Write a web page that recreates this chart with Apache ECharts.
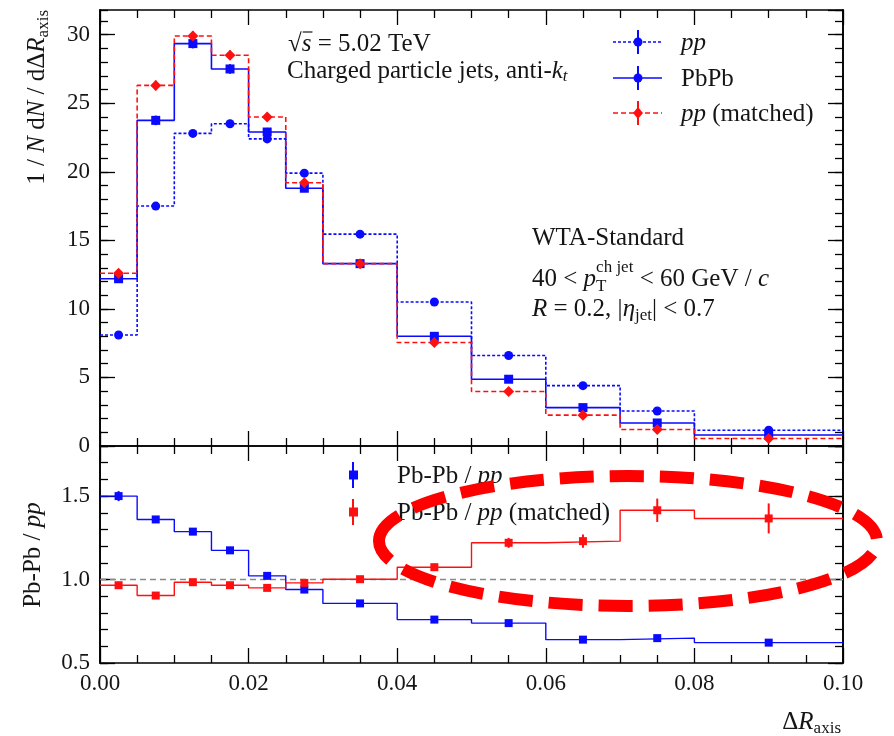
<!DOCTYPE html>
<html><head><meta charset="utf-8">
<script src="https://cdn.jsdelivr.net/npm/echarts@6/dist/echarts.min.js"></script>
<style>html,body{margin:0;padding:0;background:#fff}#c{width:894px;height:736px}</style>
</head><body><div id="c"></div>
<script>
// ---------------- data ----------------
const binEdges   = [0, 0.005, 0.01, 0.015, 0.02, 0.025, 0.03, 0.04, 0.05, 0.06, 0.07, 0.08, 0.1];
const binCenters = [0.0025, 0.0075, 0.0125, 0.0175, 0.0225, 0.0275, 0.035, 0.045, 0.055, 0.065, 0.075, 0.09];

const ppValues        = [8.1, 17.5, 22.8, 23.5, 22.4, 19.9, 15.45, 10.5, 6.6, 4.4, 2.55, 1.15];
const ppErrors        = [0.2, 0.25, 0.25, 0.25, 0.25, 0.2, 0.15, 0.12, 0.1, 0.08, 0.07, 0.05];
const pbpbValues      = [12.2, 23.75, 29.35, 27.5, 22.9, 18.8, 13.3, 8.0, 4.87, 2.8, 1.68, 0.8];
const pbpbErrors      = [0.3, 0.35, 0.35, 0.35, 0.3, 0.25, 0.2, 0.15, 0.12, 0.1, 0.08, 0.06];
const ppMatchedValues = [12.6, 26.3, 29.9, 28.5, 24.0, 19.2, 13.3, 7.55, 3.97, 2.25, 1.2, 0.55];
const ppMatchedErrors = [0.3, 0.35, 0.35, 0.35, 0.3, 0.25, 0.2, 0.15, 0.12, 0.1, 0.08, 0.06];

const ratioValues        = [1.50, 1.36, 1.287, 1.175, 1.022, 0.94, 0.857, 0.76, 0.739, 0.64, 0.649, 0.622];
const ratioErrors        = [0.03, 0.015, 0.015, 0.015, 0.015, 0.015, 0.012, 0.012, 0.012, 0.012, 0.012, 0.012];
const ratioMatchedValues = [0.966, 0.904, 0.984, 0.966, 0.95, 0.98, 1.002, 1.074, 1.22, 1.23, 1.415, 1.366];
const ratioMatchedErrors = [0.02, 0.015, 0.015, 0.015, 0.015, 0.02, 0.015, 0.02, 0.03, 0.04, 0.07, 0.09];
const referenceLevel = 1.0;

const xTicks = { min: 0, max: 0.1, major: 0.02 };
const topY = { min: 0, max: 31.8, major: 5, minor: 1 };
const ratioY = { min: 0.5, max: 1.8, major: 0.5, minor: 0.1 };

// ---------------- helpers ----------------
const FAM = "'Liberation Serif', 'Times New Roman', serif";
const TXT = '#151515';
const BLUE = '#0a0aff', RED = '#ff1010';
const FS = 25, FSS = 17;
const mctx = document.createElement('canvas').getContext('2d');
function fontStr(s, it) { return (it ? 'italic ' : '') + s + 'px ' + FAM; }
function measure(t, s, it) { mctx.font = fontStr(s, it); return mctx.measureText(t).width; }
function layout(segs, color) {
  let cx = 0; const kids = [];
  segs.forEach(sg => {
    const parts = sg.stack || [sg];
    let adv = 0;
    parts.forEach(p => {
      const s = p.s || FS, w = measure(p.t, s, p.i);
      kids.push({type: 'text', x: cx, y: p.dy || 0, z: 100,
        style: {text: p.t, font: fontStr(s, p.i), fill: color || TXT,
          align: 'left', verticalAlign: 'middle', textAlign: 'left', textVerticalAlign: 'middle'}});
      if (p.ol) kids.push({type: 'line', z: 100, shape: {x1: cx + 1, y1: -s * 0.48, x2: cx + w + 1, y2: -s * 0.48},
        style: {stroke: color || TXT, lineWidth: 1.2}});
      adv = Math.max(adv, w);
    });
    cx += adv;
  });
  return {kids, width: cx};
}
function textGroup(segs, x, y, opt) {
  opt = opt || {};
  const L = layout(segs, opt.color);
  if (opt.rotate) {
    const off = opt.anchor === 'end' ? L.width : (opt.anchor === 'center' ? L.width / 2 : 0);
    return {type: 'group', x: x, y: y + off, rotation: Math.PI / 2, children: L.kids};
  }
  let gx = x;
  if (opt.anchor === 'end') gx = x - L.width;
  return {type: 'group', x: gx, y: y, children: L.kids};
}
function stepData(values) {
  const d = [];
  values.forEach((v, i) => { d.push([binEdges[i], v]); d.push([binEdges[i + 1], v]); });
  return d;
}
function pts(values) { return binCenters.map((c, i) => [c, values[i]]); }
function errPts(values, errs) { return binCenters.map((c, i) => [c, values[i], errs[i]]); }

const axLine = {onZero: false, lineStyle: {color: '#000', width: 1.6}};
function xAx(grid, pos, labels) {
  return {type: 'value', gridIndex: grid, position: pos, min: xTicks.min, max: xTicks.max, interval: xTicks.major,
    axisLine: axLine,
    axisTick: {inside: true, length: 15, lineStyle: {color: '#000', width: 1.3}},
    minorTick: {show: true, splitNumber: 4, length: 8, lineStyle: {color: '#000', width: 1.3}},
    splitLine: {show: false}, minorSplitLine: {show: false},
    axisLabel: labels ? {show: true, margin: 9, fontFamily: FAM, fontSize: 23, color: TXT,
      formatter: v => v.toFixed(2)} : {show: false}};
}
function yAx(grid, pos, sc, interval, len, labels, fmt) {
  return {type: 'value', gridIndex: grid, position: pos, min: sc.min, max: sc.max, interval: interval,
    axisLine: axLine,
    axisTick: {inside: true, length: len, lineStyle: {color: '#000', width: 1.3}},
    splitLine: {show: false},
    axisLabel: labels ? {show: true, margin: 10, fontFamily: FAM, fontSize: 23, color: TXT,
      showMaxLabel: false, formatter: fmt} : {show: false}};
}
function errSeries(xi, yi, data, color, w) {
  return {type: 'custom', xAxisIndex: xi, yAxisIndex: yi, data: data, z: 3, encode: {x: 0, y: 1},
    renderItem: (params, api) => {
      const x = api.value(0), y = api.value(1), e = api.value(2);
      const p1 = api.coord([x, y - e]), p2 = api.coord([x, y + e]);
      return {type: 'line', shape: {x1: p1[0], y1: p1[1], x2: p2[0], y2: p2[1]},
        style: {stroke: color, lineWidth: w || 2}};
    }};
}
function stepSeries(xi, yi, values, color, type, w) {
  return {type: 'line', xAxisIndex: xi, yAxisIndex: yi, data: stepData(values), symbol: 'none', showSymbol: false,
    lineStyle: {color: color, width: w || 1.6, type: type}, z: 2};
}
function markSeries(xi, yi, values, color, symbol, size) {
  return {type: 'scatter', xAxisIndex: xi, yAxisIndex: yi, data: pts(values), symbol: symbol, symbolSize: size,
    itemStyle: {color: color, opacity: 1}, z: 4};
}

// ---------------- legend / annotation graphics ----------------
const g = [];
// top legend
const legX = 638, legRows = [42, 78, 113];
const legDefs = [
  {dash: [3, 2], color: BLUE, sym: 'circle', label: [{t: 'pp', i: true}]},
  {dash: null, color: BLUE, sym: 'circle', label: [{t: 'PbPb'}]},
  {dash: [5, 3], color: RED, sym: 'diamond', label: [{t: 'pp', i: true}, {t: ' (matched)'}]}
];
legDefs.forEach((d, k) => {
  const y = legRows[k];
  g.push({type: 'line', z: 100, shape: {x1: 613, y1: y, x2: 662, y2: y},
    style: {stroke: d.color, lineWidth: 1.6, lineDash: d.dash || null}});
  g.push({type: 'line', z: 100, shape: {x1: legX, y1: y - 12, x2: legX, y2: y + 12}, style: {stroke: d.color, lineWidth: 2}});
  if (d.sym === 'circle') g.push({type: 'circle', z: 101, shape: {cx: legX, cy: y, r: 4.5}, style: {fill: d.color}});
  else g.push({type: 'polygon', z: 101, shape: {points: [[legX, y - 6], [legX + 5, y], [legX, y + 6], [legX - 5, y]]}, style: {fill: d.color}});
  g.push(textGroup(d.label, 681, y + 1));
});
// ratio legend
[[475, BLUE, [{t: 'Pb-Pb / '}, {t: 'pp', i: true}]], [512, RED, [{t: 'Pb-Pb / '}, {t: 'pp', i: true}, {t: ' (matched)'}]]].forEach(r => {
  const y = r[0];
  g.push({type: 'line', z: 100, shape: {x1: 353, y1: y - 13, x2: 353, y2: y + 13}, style: {stroke: r[1], lineWidth: 2}});
  g.push({type: 'rect', z: 101, shape: {x: 349, y: y - 4.5, width: 9, height: 9}, style: {fill: r[1]}});
  g.push(textGroup(r[2], 397, y + 1));
});
// annotation text
g.push(textGroup([{t: '\u221A'}, {t: 's', i: true, ol: true}, {t: ' = 5.02 TeV'}], 288, 44));
g.push(textGroup([{t: 'Charged particle jets, anti-'}, {t: 'k', i: true}, {t: 't', i: true, s: FSS, dy: 6}], 287, 71));
g.push(textGroup([{t: 'WTA-Standard'}], 532, 238));
g.push(textGroup([{t: '40 < '}, {t: 'p', i: true},
  {stack: [{t: 'ch jet', s: FSS, dy: -11}, {t: 'T', s: FSS, dy: 8}]}, {t: ' < 60 GeV / '}, {t: 'c', i: true}], 532, 279));
g.push(textGroup([{t: 'R', i: true}, {t: ' = 0.2, |'}, {t: '\u03B7', i: true}, {t: 'jet', s: FSS, dy: 7}, {t: '| < 0.7'}], 532, 309));
// axis titles
g.push(textGroup([{t: '\u0394'}, {t: 'R', i: true}, {t: 'axis', s: FSS, dy: 7}], 841, 722, {anchor: 'end'}));
g.push(textGroup([{t: '1 / '}, {t: 'N', i: true}, {t: ' d'}, {t: 'N', i: true}, {t: ' / d\u0394'}, {t: 'R', i: true}, {t: 'axis', s: FSS, dy: 7}],
  37, 10, {rotate: true, anchor: 'end'}));
g.push(textGroup([{t: 'Pb-Pb / '}, {t: 'pp', i: true}], 33, 555, {rotate: true, anchor: 'center'}));
// hand-drawn red dashed ellipse highlight
g.push({type: 'ellipse', z: 200, shape: {cx: 628, cy: 541, rx: 249, ry: 65},
  style: {fill: 'none', stroke: '#ff0000', lineWidth: 12, lineDash: [34, 16]}});

// ---------------- chart ----------------
const chart = echarts.init(document.getElementById('c'), null, {renderer: 'canvas'});
chart.setOption({
  animation: false,
  backgroundColor: '#fff',
  grid: [
    {left: 100, right: 51, top: 10, height: 436, containLabel: false, outerBoundsMode: 'none'},
    {left: 100, right: 51, top: 446, height: 217, containLabel: false, outerBoundsMode: 'none'}
  ],
  xAxis: [xAx(0, 'bottom', false), xAx(0, 'top', false), xAx(1, 'bottom', true), xAx(1, 'top', false)],
  yAxis: [
    yAx(0, 'left', topY, topY.major, 15, true, v => String(v)),
    yAx(0, 'left', topY, topY.minor, 8, false),
    yAx(0, 'right', topY, topY.major, 15, false),
    yAx(0, 'right', topY, topY.minor, 8, false),
    yAx(1, 'left', ratioY, ratioY.major, 15, true, v => v.toFixed(1)),
    yAx(1, 'left', ratioY, ratioY.minor, 8, false),
    yAx(1, 'right', ratioY, ratioY.major, 15, false),
    yAx(1, 'right', ratioY, ratioY.minor, 8, false)
  ],
  series: [
    stepSeries(0, 0, ppValues, BLUE, [3, 2]),
    stepSeries(0, 0, pbpbValues, BLUE, 'solid'),
    stepSeries(0, 0, ppMatchedValues, RED, [5, 3]),
    errSeries(0, 0, errPts(ppValues, ppErrors), BLUE),
    errSeries(0, 0, errPts(pbpbValues, pbpbErrors), BLUE),
    errSeries(0, 0, errPts(ppMatchedValues, ppMatchedErrors), RED),
    markSeries(0, 0, ppValues, BLUE, 'circle', 9),
    markSeries(0, 0, pbpbValues, BLUE, 'rect', 9),
    markSeries(0, 0, ppMatchedValues, RED, 'diamond', 11),
    {type: 'line', xAxisIndex: 2, yAxisIndex: 4, symbol: 'none', z: 1,
      data: [[binEdges[0], referenceLevel], [binEdges[binEdges.length - 1], referenceLevel]],
      lineStyle: {color: '#8a8a8a', width: 1.5, type: [6, 4]}},
    stepSeries(2, 4, ratioValues, BLUE, 'solid', 1.4),
    stepSeries(2, 4, ratioMatchedValues, RED, 'solid', 1.4),
    errSeries(2, 4, errPts(ratioValues, ratioErrors), BLUE),
    errSeries(2, 4, errPts(ratioMatchedValues, ratioMatchedErrors), RED),
    markSeries(2, 4, ratioValues, BLUE, 'rect', 8),
    markSeries(2, 4, ratioMatchedValues, RED, 'rect', 8)
  ],
  graphic: g
});
</script></body></html>
